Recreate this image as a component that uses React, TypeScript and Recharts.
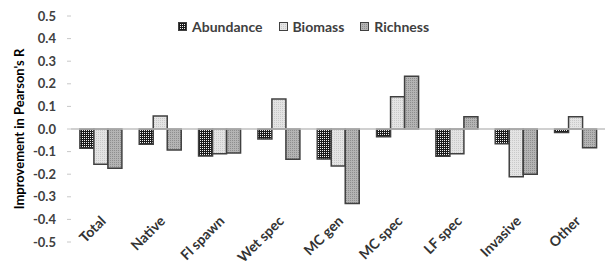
import React from "react";
import { BarChart, Bar, XAxis, YAxis, ReferenceLine, Legend } from "recharts";

if (typeof document !== "undefined") {
  document.body.style.margin = "0";
}

const categories = ["Total", "Native", "Fl spawn", "Wet spec", "MC gen", "MC spec", "LF spec", "Invasive", "Other"];
const abundance = [-0.085, -0.068, -0.12, -0.044, -0.133, -0.034, -0.121, -0.065, -0.016];
const biomass = [-0.156, 0.057, -0.11, 0.133, -0.164, 0.143, -0.109, -0.211, 0.054];
const richness = [-0.174, -0.093, -0.106, -0.134, -0.33, 0.233, 0.054, -0.2, -0.083];
const yTicks = [-0.5, -0.4, -0.3, -0.2, -0.1, 0, 0.1, 0.2, 0.3, 0.4, 0.5];
const seriesNames = ["Abundance", "Biomass", "Richness"];

const data = categories.map((c, i) => ({
  name: c,
  Abundance: abundance[i],
  Biomass: biomass[i],
  Richness: richness[i],
}));

const FONT = "Lato, 'Open Sans', sans-serif";
const patternIds = ["patAbund", "patBio", "patRich"];

const Patterns = () => (
  <svg width={0} height={0} style={{ position: "absolute" }}>
    <defs>
      <pattern id="patAbund" width={2} height={2} patternUnits="userSpaceOnUse">
        <rect width={2} height={2} fill="#1a1a1a" />
        <rect x={0} y={0} width={1} height={1} fill="#f0f0f0" />
      </pattern>
      <pattern id="patBio" width={2} height={2} patternUnits="userSpaceOnUse">
        <rect width={2} height={2} fill="#e4e4e4" />
        <rect x={0} y={0} width={1} height={1} fill="#c9c9c9" />
      </pattern>
      <pattern id="patRich" width={2} height={2} patternUnits="userSpaceOnUse">
        <rect width={2} height={2} fill="#b4b4b4" />
        <rect x={0} y={0} width={1} height={1} fill="#8e8e8e" />
      </pattern>
    </defs>
  </svg>
);

const LegendContent = () => (
  <div
    style={{
      display: "flex",
      alignItems: "center",
      fontFamily: FONT,
      fontSize: 14,
      fontWeight: 700,
      color: "#404040",
      whiteSpace: "nowrap",
    }}
  >
    {seriesNames.map((s, i) => (
      <div key={s} style={{ display: "flex", alignItems: "center", marginRight: 16 }}>
        <svg width={9} height={9} style={{ display: "block" }}>
          <rect x={0.5} y={0.5} width={8} height={8} fill={`url(#${patternIds[i]})`} stroke="#404040" strokeWidth={1} />
        </svg>
        <span style={{ marginLeft: 5 }}>{s}</span>
      </div>
    ))}
  </div>
);

const XTick = (props: any) => {
  const { x, y, payload } = props;
  return (
    <g transform={`translate(${x + 6},${y - 20})`}>
      <text
        textAnchor="end"
        transform="rotate(-45)"
        fontFamily={FONT}
        fontSize={14}
        fontWeight={700}
        fill="#333333"
      >
        {payload.value}
      </text>
    </g>
  );
};

export default function App() {
  return (
    <div style={{ position: "relative", width: 609, height: 264, background: "#fff" }}>
      <Patterns />
      <BarChart
        width={609}
        height={264}
        data={data}
        margin={{ top: 16, right: 4, bottom: 0, left: 0 }}
        barCategoryGap="15%"
        barGap={0}
      >
        <XAxis
          dataKey="name"
          height={22}
          axisLine={false}
          tickLine={false}
          tickSize={0}
          tickMargin={0}
          interval={0}
          tick={<XTick />}
        />
        <YAxis
          width={71}
          domain={[-0.5, 0.5]}
          ticks={yTicks}
          axisLine={false}
          tickLine={{ stroke: "#c8c8c8" }}
          tickSize={4}
          tickMargin={11}
          tickFormatter={(v: number) => v.toFixed(1)}
          tick={{ fontFamily: FONT, fontSize: 13, fontWeight: 700, fill: "#404040" }}
          label={{
            value: "Improvement in Pearson's R",
            angle: -90,
            position: "center",
            dx: -16,
            style: { fontFamily: FONT, fontSize: 13, fontWeight: 700, fill: "#000" },
          }}
        />
        <ReferenceLine y={0} stroke="#c0c0c0" strokeWidth={1.5} />
        <Legend
          layout="horizontal"
          verticalAlign="middle"
          align="center"
          content={<LegendContent />}
          wrapperStyle={{ left: 178, top: 18, width: "auto" }}
        />
        {seriesNames.map((s, i) => (
          <Bar
            key={s}
            dataKey={s}
            fill={`url(#${patternIds[i]})`}
            stroke="#404040"
            strokeWidth={1.5}
            isAnimationActive={false}
          />
        ))}
      </BarChart>
    </div>
  );
}
